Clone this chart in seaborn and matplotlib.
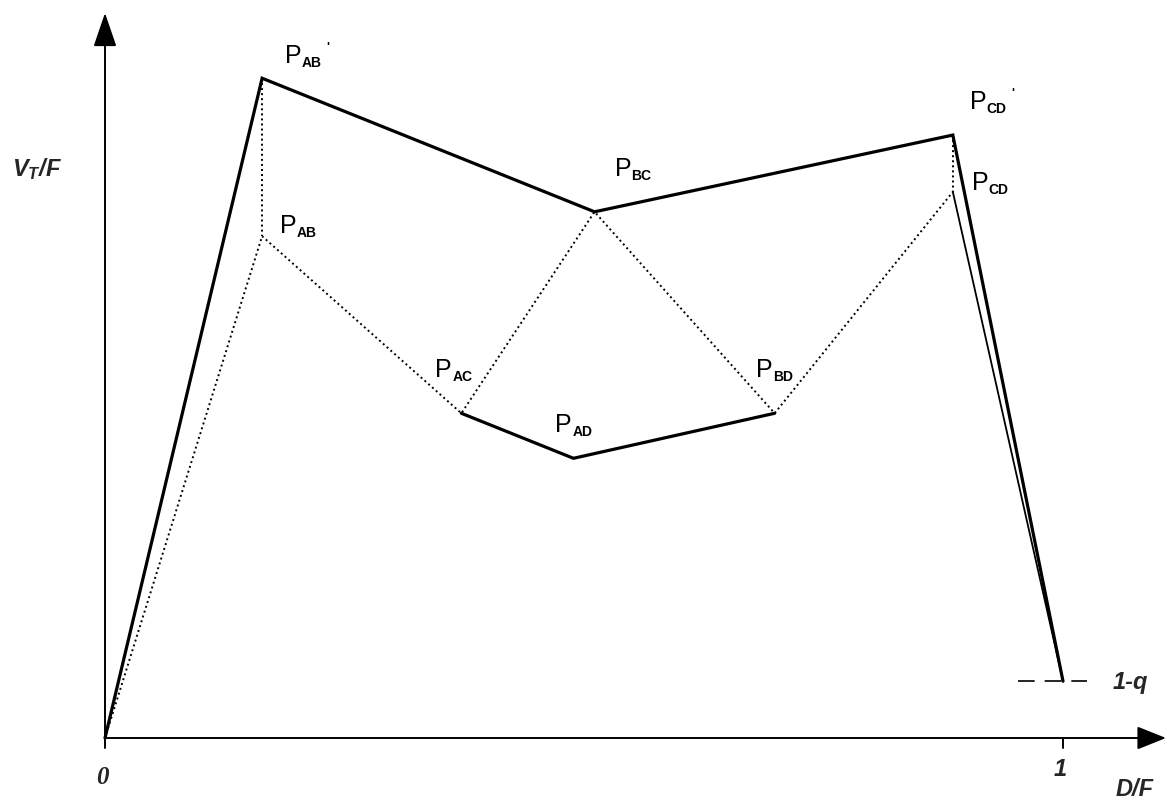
import numpy as np
import pandas as pd
import matplotlib
matplotlib.use("Agg")
import matplotlib.pyplot as plt
import seaborn as sns

# ---- data ----
point_names = ["O", "AB'", "AB", "AC", "AD", "BD", "BC", "CD'", "CD", "E"]
point_x = [0.0, 0.164, 0.164, 0.372, 0.489, 0.699, 0.511, 0.885, 0.885, 1.0]
point_y = [0.0, 0.894, 0.680, 0.440, 0.379, 0.440, 0.713, 0.817, 0.740, 0.077]

thick_paths = [["O", "AB'", "BC", "CD'", "E"], ["AC", "AD", "BD"]]
dotted_paths = [["O", "AB", "AC", "BC", "BD", "CD"], ["AB'", "AB"], ["CD'", "CD"]]
thin_paths = [["CD", "E"]]

# label: point, subscript, primed, offset (pixels) of the "P" baseline-left
label_points = ["AB'", "AB", "BC", "AC", "AD", "BD", "CD'", "CD"]
label_subs = ["AB", "AB", "BC", "AC", "AD", "BD", "CD", "CD"]
label_prime = [True, False, False, False, False, False, True, False]
label_dx = [23, 18, 20, -26, -18, -19, 17, 19]
label_dy = [15, 3, 36, 36, 26, 36, 26, 2]

q_level_label = "1-q"
x_tick_labels = ["0", "1"]
x_axis_label = "D/F"
y_axis_label = r"$V_T/F$"

# ---- style ----
sns.set_theme(style="white")
plt.rcParams["font.family"] = ["Liberation Sans", "DejaVu Sans"]
plt.rcParams["mathtext.fontset"] = "custom"
plt.rcParams["mathtext.it"] = "Liberation Sans:italic:bold"
plt.rcParams["mathtext.rm"] = "Liberation Sans:italic:bold"
plt.rcParams["mathtext.bf"] = "Liberation Sans:italic:bold"

W, H, DPI = 1168, 800, 100
fig = plt.figure(figsize=(W / DPI, H / DPI), dpi=DPI)
ax = fig.add_axes([0, 0, 1, 1])
ox, oy = 105, 738          # origin pixel
sx, sy = 958, 738          # pixels per data unit
ax.set_xlim(-ox / sx, (W - ox) / sx)
ax.set_ylim(-(H - oy) / sy, oy / sy)
ax.set_axis_off()

pts = pd.DataFrame({"name": point_names, "x": point_x, "y": point_y}).set_index("name")

def path_df(path):
    return pts.loc[path].reset_index()

for p in thick_paths:
    sns.lineplot(data=path_df(p), x="x", y="y", sort=False, estimator=None,
                 color="black", lw=2.3, ax=ax, solid_joinstyle="miter")
for p in dotted_paths:
    sns.lineplot(data=path_df(p), x="x", y="y", sort=False, estimator=None,
                 color="black", lw=1.4, linestyle=(0, (1.0, 1.6)), ax=ax)
for p in thin_paths:
    sns.lineplot(data=path_df(p), x="x", y="y", sort=False, estimator=None,
                 color="black", lw=1.3, ax=ax)

# 1-q dashed guide
qy = pts.loc["E", "y"]
qx = pts.loc["E", "x"]
ax.hlines(qy, qx - 45 / sx, qx + 24 / sx, color="black", lw=1.2,
          linestyles=(0, (10, 6)))

# axes with arrows
ax.annotate("", xy=(0, (oy - 13) / sy), xytext=(0, -10 / sy),
            arrowprops=dict(arrowstyle="-|>,head_length=1.05,head_width=0.36",
                            mutation_scale=20, lw=1.4, color="black",
                            shrinkA=0, shrinkB=0))
ax.annotate("", xy=((1166 - ox) / sx, 0), xytext=(0, 0),
            arrowprops=dict(arrowstyle="-|>,head_length=0.9,head_width=0.36",
                            mutation_scale=20, lw=1.4, color="black",
                            shrinkA=0, shrinkB=0))
ax.plot([1, 1], [0, -10 / sy], color="black", lw=1.4)

# point labels
for name, sub, prime, dx, dy in zip(label_points, label_subs, label_prime, label_dx, label_dy):
    xy = (pts.loc[name, "x"], pts.loc[name, "y"])
    ax.annotate("P", xy=xy, xytext=(dx, dy), textcoords="offset pixels",
                ha="left", va="baseline", fontsize=18, color="black")
    ax.annotate(sub, xy=xy, xytext=(dx + 17, dy - 4), textcoords="offset pixels",
                ha="left", va="baseline", fontsize=10, fontweight="bold", color="black")
    if prime:
        ax.annotate("'", xy=xy, xytext=(dx + 41, dy + 12), textcoords="offset pixels",
                    ha="left", va="baseline", fontsize=9, fontweight="bold", color="black")

# axis texts
ax.annotate(q_level_label, xy=(qx, qy), xytext=(50, -1), textcoords="offset pixels",
            ha="left", va="center", fontsize=17, fontweight="bold", fontstyle="italic")
ax.annotate(x_tick_labels[0], xy=(0, 0), xytext=(-3, -39), textcoords="offset pixels",
            ha="center", va="center", fontsize=18, fontweight="bold", fontstyle="italic",
            family=["Liberation Serif", "DejaVu Serif"])
ax.annotate(x_tick_labels[1], xy=(1, 0), xytext=(-3, -31), textcoords="offset pixels",
            ha="center", va="center", fontsize=17, fontweight="bold", fontstyle="italic")
ax.annotate(x_axis_label, xy=(1, 0), xytext=(72, -52), textcoords="offset pixels",
            ha="center", va="center", fontsize=17, fontweight="bold", fontstyle="italic")
ax.annotate(y_axis_label, xy=(0, 0), xytext=(-68, 569), textcoords="offset pixels",
            ha="center", va="center", fontsize=17)

fig.savefig("out.png", dpi=DPI, facecolor="white")
